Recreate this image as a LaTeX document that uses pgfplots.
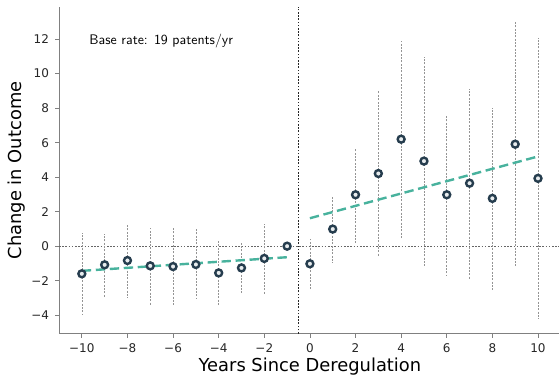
\documentclass[border=0pt]{standalone}
\usepackage{fontspec}
\setmainfont{DejaVu Sans}
\usepackage{pgfplots}
\pgfplotsset{compat=1.18}
\usepackage{pgfplotstable}
\definecolor{mkedge}{HTML}{263D4E}
\definecolor{mkfill}{HTML}{E8ECEE}
\definecolor{fitc}{HTML}{48B29D}
\definecolor{spinec}{HTML}{808080}

\pgfplotstableread{
x y lo hi
-10 -1.60 -3.96 0.74
-9 -1.08 -2.97 0.68
-8 -0.83 -3.03 1.26
-7 -1.14 -3.38 1.03
-6 -1.18 -3.46 1.03
-5 -1.06 -3.09 0.99
-4 -1.55 -3.46 0.33
-3 -1.26 -2.78 0.19
-2 -0.71 -2.78 1.26
-1 0.00 0.00 0.00
0 -1.02 -2.53 0.43
1 0.99 -0.98 2.87
2 2.98 0.17 5.64
3 4.21 -0.56 8.99
4 6.20 0.49 11.90
5 4.93 -1.12 10.97
6 2.98 -1.74 7.58
7 3.65 -1.91 9.12
8 2.77 -2.53 8.02
9 5.91 -1.18 13.00
10 3.93 -4.21 12.08
}\coefs

\pgfplotstablecreatecol[expr={\thisrow{hi}-\thisrow{y}}]{ep}\coefs
\pgfplotstablecreatecol[expr={\thisrow{y}-\thisrow{lo}}]{em}\coefs

\begin{document}
\begin{tikzpicture}
\begin{axis}[
  name=ax,
  scale only axis,
  width=376.2pt, height=244.9pt,
  xmin=-11, xmax=11, ymin=-5.07, ymax=13.86,
  axis lines*=left,
  axis line style={spinec, line width=0.6pt},
  tick align=outside,
  major tick length=3pt,
  tick style={spinec, line width=0.6pt},
  xtick={-10,-8,...,10},
  xticklabels={−10,−8,−6,−4,−2,0,2,4,6,8,10},
  ytick={-4,-2,...,12},
  yticklabels={−4,−2,0,2,4,6,8,10,12},
  ticklabel style={font=\fontsize{9}{10}\selectfont, text=black!85},
  xticklabel style={yshift=-1pt},
  yticklabel style={xshift=-1pt},
  xlabel={Years Since Deregulation},
  ylabel={Change in Outcome},
  xlabel style={at={(axis description cs:0.5,-0.101)}, anchor=center, font=\fontsize{13.4}{15}\selectfont},
  ylabel style={at={(axis description cs:-0.084,0.5)}, anchor=center, font=\fontsize{13.4}{15}\selectfont},
  clip=false,
]
% reference lines
\addplot[black!60, line width=0.7pt, dash pattern=on 1.2pt off 1.2pt] coordinates {(-11,0) (11,0)};
\addplot[black!85, line width=0.7pt, dash pattern=on 1.2pt off 1.2pt] coordinates {(-0.5,-5.07) (-0.5,13.86)};
% error bars
\addplot[only marks, mark=none, error bars/.cd, y dir=both, y explicit, error mark=none,
  error bar style={black!42, line width=0.45pt, dash pattern=on 1.5pt off 1pt}]
  table[x=x, y=y, y error plus=ep, y error minus=em] {\coefs};
% fits
\addplot[fitc, line width=1.8pt, dash pattern=on 7pt off 3.5pt] coordinates {(-10,-1.43) (-1,-0.64)};
\addplot[fitc, line width=1.8pt, dash pattern=on 7pt off 3.5pt] coordinates {(0,1.62) (10,5.2)};
% points
\addplot[only marks, mark=*, mark size=2.6pt, mark options={draw=mkedge, fill=mkfill, line width=1.8pt}]
  table[x=x, y=y] {\coefs};
\node[anchor=west, inner sep=0pt, font=\sffamily\fontsize{10.4}{12}\selectfont] at (axis description cs:0.06,0.896) {Base rate: 19 patents/yr};
\end{axis}
\pgfresetboundingbox
\path ([xshift=-44.25pt, yshift=-32.25pt]ax.south west) rectangle ([xshift=374.85pt, yshift=5.25pt]ax.north west);
\end{tikzpicture}
\end{document}
